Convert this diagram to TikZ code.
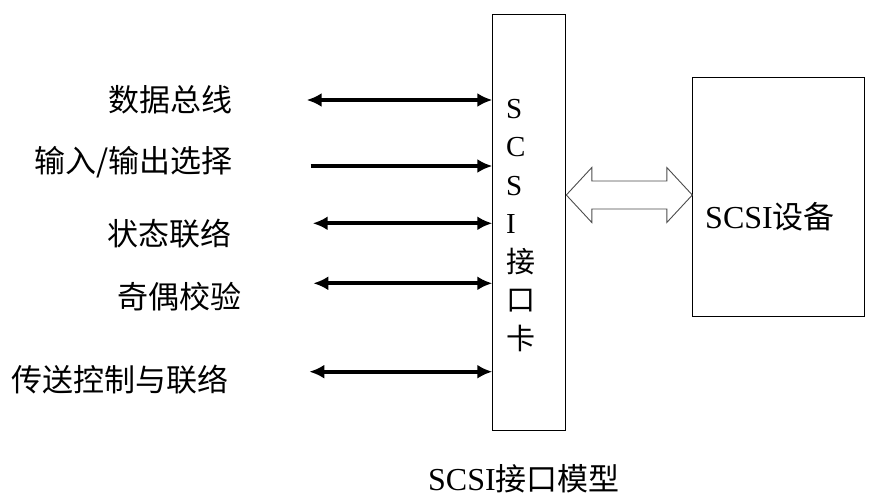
\documentclass[tikz,border=0pt]{standalone}
\usepackage{fontspec}
\setmainfont{Liberation Serif}
\newfontfamily\cjk{Noto Sans CJK SC}
\usetikzlibrary{arrows.meta, calc}

\begin{document}
\begin{tikzpicture}[x=1pt, y=-1pt, >={Latex[length=15pt,width=14pt]},
    font=\fontsize{29pt}{35pt}\selectfont,
    box/.style={draw, line width=1pt, inner sep=0pt, anchor=north west},
    sig/.style={line width=4.2pt},
    lbl/.style={anchor=east, inner sep=0pt, font=\fontsize{31pt}{37pt}\selectfont\cjk},
    big/.style={anchor=base west, inner sep=0pt, font=\fontsize{32pt}{38pt}\selectfont},
    hollow/.style={draw=black!70, line width=0.9pt, fill=white}]
    \useasboundingbox (0,0) rectangle (885,503);

    % --- interface card and device ---
    \node[box, minimum width=73pt, minimum height=416pt] (card) at (492.3,14.3) {};
    \node[box, minimum width=172pt, minimum height=239pt] (dev) at (692.3,77.3) {};
    \foreach \ch [count=\i] in {S,C,S,I,{\cjk 接},{\cjk 口},{\cjk 卡}} {
        \node[anchor=base west, inner sep=0pt] (c\i) at (506,118+38.5*\i-38.5) {\ch};
    }
    \node[big] (devtxt) at (705,228) {SCSI{\cjk\fontsize{31pt}{36pt}\selectfont 设备}};

    % --- signal lines on the left ---
    \node[lbl] (data) at (233,100) {数据总线};
    \node[lbl] (io)   at (233,162) {输入/输出选择};
    \node[lbl] (stat) at (232,234) {状态联络};
    \node[lbl] (par)  at (242,297) {奇偶校验};
    \node[lbl] (ctrl) at (229,380) {传送控制与联络};

    \coordinate (a1) at (306.7,100);
    \coordinate (a2) at (310.7,166);
    \coordinate (a3) at (312.7,223.3);
    \coordinate (a4) at (313.3,283.3);
    \coordinate (a5) at (309.3,371.7);
    \draw[sig, <->] (a1) -- (a1 -| card.west);
    \draw[sig, ->]  (a2) -- (a2 -| card.west);
    \draw[sig, <->] (a3) -- (a3 -| card.west);
    \draw[sig, <->] (a4) -- (a4 -| card.west);
    \draw[sig, <->] (a5) -- (a5 -| card.west);

    % --- hollow double arrow between card and device ---
    \coordinate (hl) at (card.east |- 0,195);
    \coordinate (hr) at (dev.west |- 0,195);
    \draw[hollow] (hl) -- ($(hl)+(25.5,-27.5)$) -- ($(hl)+(25.5,-14)$)
        -- ($(hr)+(-25.5,-14)$) -- ($(hr)+(-25.5,-27.5)$) -- (hr)
        -- ($(hr)+(-25.5,27.5)$) -- ($(hr)+(-25.5,14)$)
        -- ($(hl)+(25.5,14)$) -- ($(hl)+(25.5,27.5)$) -- cycle;

    % --- caption ---
    \node[big] (cap) at (428,490) {SCSI{\cjk\fontsize{31pt}{36pt}\selectfont 接口模型}};
\end{tikzpicture}
\end{document}
